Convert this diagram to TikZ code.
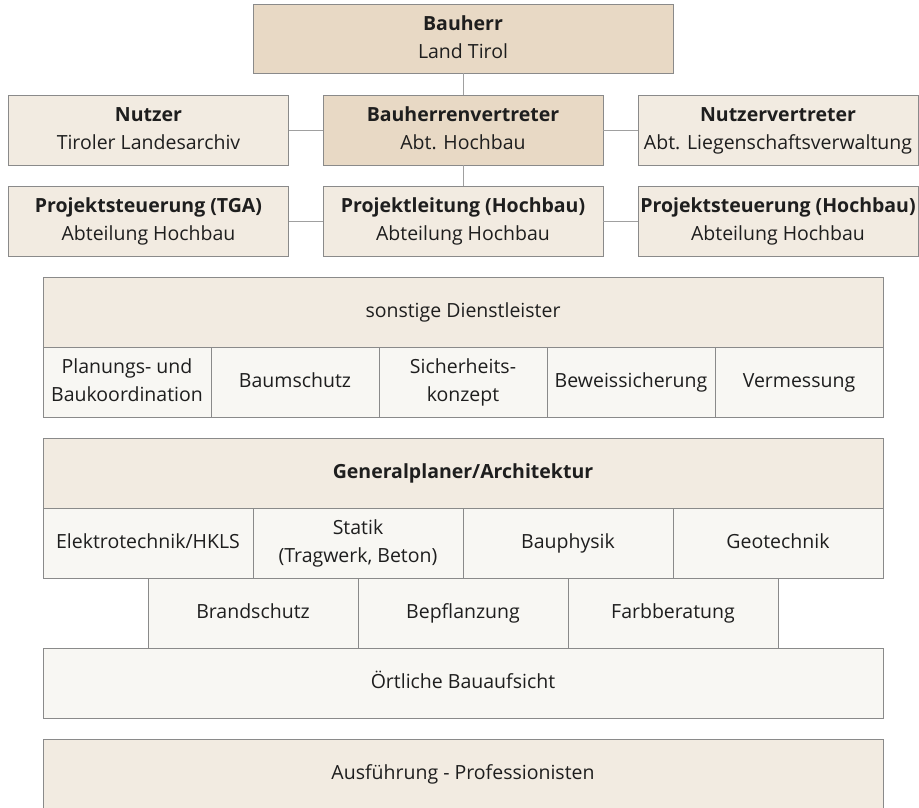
\documentclass[tikz,border=0pt]{standalone}
\usepackage{fontspec}
\setmainfont{Open Sans}
\definecolor{darkfill}{HTML}{E8D9C5}
\definecolor{lightfill}{HTML}{F2EBE1}
\definecolor{cellfill}{HTML}{F8F7F3}
\definecolor{bordercol}{HTML}{8A8A8A}
\definecolor{linkcol}{HTML}{A0A0A0}
\definecolor{txt}{HTML}{1E1E1E}
\tikzset{
  basebox/.style={draw=bordercol, line width=0.9pt, inner sep=0pt, align=center,
    text=txt, font=\fontsize{19.5}{28}\selectfont},
  darkbox/.style={basebox, fill=darkfill, minimum width=280pt, minimum height=70pt},
  lightbox/.style={basebox, fill=lightfill, minimum width=280pt, minimum height=70pt},
  headbox/.style={basebox, fill=lightfill, minimum width=840pt, minimum height=70pt},
  cellfive/.style={basebox, fill=cellfill, minimum width=168pt, minimum height=70pt},
  cellfour/.style={basebox, fill=cellfill, minimum width=210pt, minimum height=70pt},
  widecell/.style={basebox, fill=cellfill, minimum width=840pt, minimum height=70pt},
  link/.style={draw=linkcol, line width=0.9pt}
}
\begin{document}
\begin{tikzpicture}[x=1pt,y=-1pt]
\useasboundingbox (0,0) rectangle (919,807);
% top org chart
\node[darkbox, minimum width=420pt, minimum height=69pt] (bauherr) at (463,38.5) {\textbf{Bauherr}\strut\\Land Tirol\strut};
\node[lightbox] (nutzer) at (148.5,130) {\textbf{Nutzer}\strut\\Tiroler Landesarchiv\strut};
\node[darkbox] (bv) at (463,130) {\textbf{Bauherrenvertreter}\strut\\Abt. Hochbau\strut};
\node[lightbox] (nv) at (778,130) {\textbf{Nutzervertreter}\strut\\Abt. Liegenschaftsverwaltung\strut};
\node[lightbox] (pstga) at (148.5,221) {\textbf{Projektsteuerung (TGA)}\strut\\Abteilung Hochbau\strut};
\node[lightbox] (pl) at (463,221) {\textbf{Projektleitung (Hochbau)}\strut\\Abteilung Hochbau\strut};
\node[lightbox] (psh) at (778,221) {\textbf{Projektsteuerung (Hochbau)}\strut\\Abteilung Hochbau\strut};
\draw[link] (bauherr.south) -- (bv.north);
\draw[link] (bv.south) -- (pl.north);
\draw[link] (nutzer.east) -- (bv.west);
\draw[link] (bv.east) -- (nv.west);
\draw[link] (pstga.east) -- (pl.west);
\draw[link] (pl.east) -- (psh.west);
% sonstige Dienstleister
\node[headbox] (sd) at (463,312) {sonstige Dienstleister\strut};
\node[cellfive] (sd1) at (127,382) {Planungs- und\strut\\Baukoordination\strut};
\node[cellfive] (sd2) at (295,382) {Baumschutz\strut};
\node[cellfive] (sd3) at (463,382) {Sicherheits-\strut\\konzept\strut};
\node[cellfive] (sd4) at (631,382) {Beweissicherung\strut};
\node[cellfive] (sd5) at (799,382) {Vermessung\strut};
% Generalplaner
\node[headbox] (gp) at (463,473) {\textbf{Generalplaner/Architektur}\strut};
\node[cellfour] (gp1) at (148,543) {Elektrotechnik/HKLS\strut};
\node[cellfour] (gp2) at (358,543) {Statik\strut\\(Tragwerk, Beton)\strut};
\node[cellfour] (gp3) at (568,543) {Bauphysik\strut};
\node[cellfour] (gp4) at (778,543) {Geotechnik\strut};
\node[cellfour] (gp5) at (253,613) {Brandschutz\strut};
\node[cellfour] (gp6) at (463,613) {Bepflanzung\strut};
\node[cellfour] (gp7) at (673,613) {Farbberatung\strut};
\node[widecell] (oba) at (463,683) {Örtliche Bauaufsicht\strut};
% Ausfuehrung
\node[headbox] (af) at (463,774) {Ausführung - Professionisten\strut};
\end{tikzpicture}
\end{document}
